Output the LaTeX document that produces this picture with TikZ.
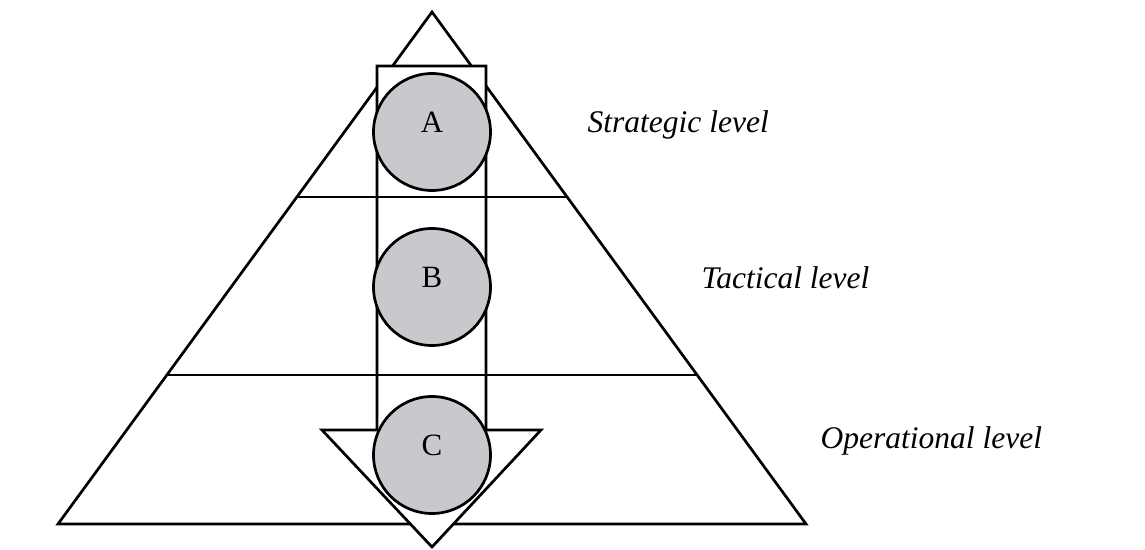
\documentclass[tikz,border=0pt]{standalone}
\usepackage{fontspec}
\setmainfont{Liberation Serif}
\usepackage{tikz}
\usetikzlibrary{positioning,calc}
\definecolor{discgray}{RGB}{200,201,204}

\begin{document}
\begin{tikzpicture}[x=1pt,y=-1pt,line width=2.7pt,line join=miter,
    disc/.style={circle, draw=black, fill=discgray, minimum size=117pt, inner sep=0pt},
    letter/.style={anchor=base, font=\fontsize{31}{35}\selectfont},
    levelname/.style={anchor=base west, font=\fontsize{31.5}{36}\selectfont\itshape}]
    \useasboundingbox (0,0) rectangle (1145,549);
    % pyramid corners
    \coordinate (top) at (432,12);
    \coordinate (bl) at (58,524);
    \coordinate (br) at (806,524);
    \draw (top) -- (br) -- (bl) -- cycle;%draws pyramid
    % arrow through the levels
    \draw[fill=white] (377,66) -- (486,66) -- (486,430) -- (541,430) -- (432,547) -- (322,430) -- (377,430) -- cycle;%draws arrow
    % level lines
    \draw ($(top)!185/512!(bl)$) coordinate (s1) -- ($(top)!185/512!(br)$) coordinate (s2);%strategic/tactical
    \draw ($(top)!363/512!(bl)$) coordinate (t1) -- ($(top)!363/512!(br)$) coordinate (t2);%tactical/operational
    % discs
    \node (A) [disc] at (432,132) {};
    \node (B) [disc] at (432,287) {};
    \node (C) [disc] at (432,455) {};
    \node (Alab) [letter] at (A.center) {A};
    \node (Blab) [letter] at (B.center) {B};
    \node (Clab) [letter] at (C.center) {C};
    % level names
    \node (strat) [levelname] at (583,132) {Strategic level};
    \node (tact) [levelname] at (697,288) {Tactical level};
    \node (oper) [levelname] at (816,448) {Operational level};
\end{tikzpicture}
\end{document}
